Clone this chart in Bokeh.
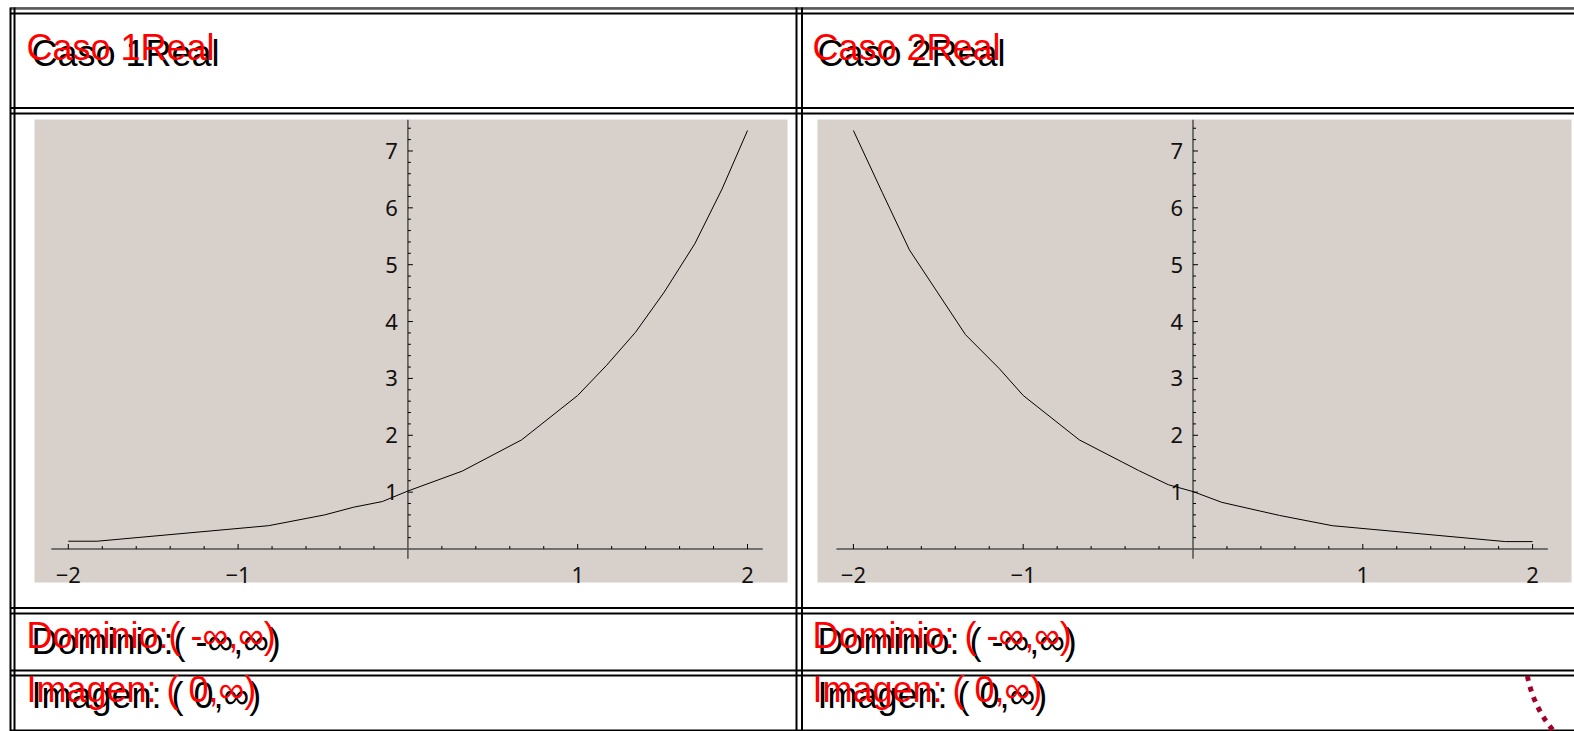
import numpy as np
from bokeh.plotting import figure
from bokeh.models import Range1d
from bokeh.core.properties import value
from bokeh.embed import file_html
from bokeh.resources import INLINE

# ---------------- data ----------------
case1_x = [-2.0, -1.83, -0.82, -0.49, -0.32, -0.15, 0.0, 0.32, 0.67, 1.0, 1.17, 1.34, 1.51, 1.69, 1.85, 2.0]
case1_y = [0.137, 0.137, 0.41, 0.60, 0.735, 0.835, 1.02, 1.37, 1.92, 2.70, 3.23, 3.81, 4.52, 5.37, 6.33, 7.36]

case2_x = [-2.0, -1.83, -1.67, -1.34, -1.14, -1.0, -0.67, -0.32, -0.145, 0.0, 0.17, 0.51, 0.82, 1.84, 2.0]
case2_y = [7.36, 6.27, 5.26, 3.77, 3.17, 2.70, 1.92, 1.38, 1.13, 1.01, 0.82, 0.59, 0.41, 0.13, 0.13]

x_major_ticks = [-2, -1, 1, 2]
x_tick_labels = ["\u22122", "\u22121", "1", "2"]
x_minor_ticks = [-1.8, -1.6, -1.4, -1.2, -0.8, -0.6, -0.4, -0.2,
                 0.2, 0.4, 0.6, 0.8, 1.2, 1.4, 1.6, 1.8]
y_major_ticks = [1, 2, 3, 4, 5, 6, 7]
y_tick_labels = ["1", "2", "3", "4", "5", "6", "7"]
y_minor_ticks = [0.2, 0.4, 0.6, 0.8, 1.2, 1.4, 1.6, 1.8, 2.2, 2.4, 2.6, 2.8,
                 3.2, 3.4, 3.6, 3.8, 4.2, 4.4, 4.6, 4.8, 5.2, 5.4, 5.6, 5.8,
                 6.2, 6.4, 6.6, 6.8, 7.2, 7.4]
x_axis_span = [-2.1, 2.09]
y_axis_span = [-0.17, 7.55]

titles = ["Caso 1Real", "Caso 2Real"]
dominios = ["Dominio:( -\u221e,\u221e)", "Dominio: ( -\u221e,\u221e)"]
imagenes = ["Imagen: ( 0,\u221e)", "Imagen: ( 0,\u221e)"]

# ---------------- layout (page pixels) ----------------
W, H = 1574, 731
PX_X = 169.8          # pixels per x unit in the small plots
PX_Y = 56.86          # pixels per y unit
X0 = [407.4, 1192.5]  # page x of x=0 in each plot
Y0 = 548.5            # page y of y=0
COL_X = [0, 786]      # column offsets

p = figure(width=W, height=H, x_range=Range1d(0, W), y_range=Range1d(H, 0),
           x_axis_type=None, y_axis_type=None, output_backend="svg",
           toolbar_location=None, min_border=0)
p.grid.visible = False
p.outline_line_color = None
p.background_fill_color = "white"
p.border_fill_color = "white"

p.extra_x_ranges = {
    "c0": Range1d((0 - X0[0]) / PX_X, (W - X0[0]) / PX_X),
    "c1": Range1d((0 - X0[1]) / PX_X, (W - X0[1]) / PX_X),
}
p.extra_y_ranges = {"v": Range1d((Y0 - H) / PX_Y, (Y0 - 0) / PX_Y)}

# plot backgrounds
BG = "#D8D0CA"
p.quad(left=[34, 817], right=[787, 1571], top=[119, 119], bottom=[582, 582],
       fill_color=BG, line_color=None)

# table borders
hl = [13, 107.5, 113, 607.5, 613, 670, 675, 730]
p.quad(left=[10] * len(hl), right=[W] * len(hl),
       top=[c - 1 for c in hl], bottom=[c + 1 for c in hl],
       fill_color="black", line_color=None)
p.quad(left=[10], right=[W], top=[6.5], bottom=[8], fill_color="#666666", line_color=None)
p.quad(left=[10], right=[W], top=[8], bottom=[9], fill_color="black", line_color=None)
vl = [10, 14, 796, 801.5]
p.quad(left=[c - 1 for c in vl], right=[c + 1 for c in vl],
       top=[7] * len(vl), bottom=[H] * len(vl),
       fill_color="black", line_color=None)

# small plots: axes, ticks, labels, curves
MAJ, MIN = 5.0, 3.0
TICK_FONT = value("Noto Sans")
for rn, cx, cy in (("c0", case1_x, case1_y), ("c1", case2_x, case2_y)):
    kw = dict(x_range_name=rn, y_range_name="v")
    p.segment(x0=[x_axis_span[0], 0], y0=[0, y_axis_span[0]],
              x1=[x_axis_span[1], 0], y1=[0, y_axis_span[1]],
              line_color="#505050", line_width=1.5, **kw)
    p.segment(x0=x_major_ticks, y0=0, x1=x_major_ticks, y1=MAJ / PX_Y,
              line_color="black", line_width=1, **kw)
    p.segment(x0=x_minor_ticks, y0=0, x1=x_minor_ticks, y1=MIN / PX_Y,
              line_color="black", line_width=1, **kw)
    p.segment(x0=0, y0=y_major_ticks, x1=MAJ / PX_X, y1=y_major_ticks,
              line_color="black", line_width=1, **kw)
    p.segment(x0=0, y0=y_minor_ticks, x1=MIN / PX_X, y1=y_minor_ticks,
              line_color="black", line_width=1, **kw)
    p.text(x=x_major_ticks, y=0, text=x_tick_labels, y_offset=25.5,
           text_align="center", text_baseline="middle",
           text_font=TICK_FONT, text_font_size="22px",
           text_color="#111111", **kw)
    p.text(x=0, y=y_major_ticks, text=y_tick_labels, x_offset=-10,
           text_align="right", text_baseline="middle",
           text_font=TICK_FONT, text_font_size="22px",
           text_color="#111111", **kw)
    p.line(cx, cy, line_color="black", line_width=1, **kw)

# cell texts (black with red shadow on top)
FONT = value("Liberation Sans")
BASE_X = 31
rows = [(titles, 53), (dominios, 641), (imagenes, 695)]
for color, dx, dy in (("black", 0, 0), ("#FF0000", -5, -6)):
    for texts, by in rows:
        p.text(x=[BASE_X + COL_X[0] + dx, BASE_X + COL_X[1] + dx], y=[by + dy, by + dy],
               text=texts, text_font=FONT, text_font_size="36px",
               text_color=color, text_align="left", text_baseline="alphabetic")

# decorative dotted arc (bottom right)
t = np.radians(np.linspace(169.5, 128, 40))
p.line(1643 + 118 * np.cos(t), 654 + 118 * np.sin(t), line_color="#A0002A",
       line_width=5, line_dash="5 6", line_cap="butt")

open("out.html", "w").write(file_html(p, INLINE))
